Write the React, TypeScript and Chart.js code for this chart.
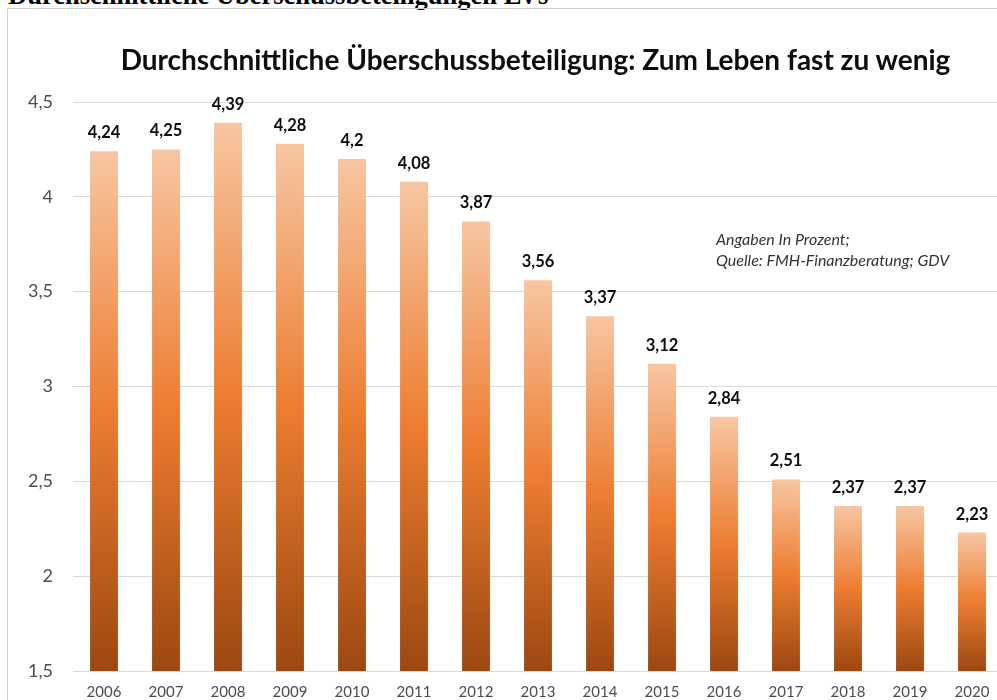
import React, { useEffect, useRef } from "react";
import { Chart, registerables } from "chart.js";

Chart.register(...registerables);

const years = ["2006","2007","2008","2009","2010","2011","2012","2013","2014","2015","2016","2017","2018","2019","2020"];
const rates = [4.24, 4.25, 4.39, 4.28, 4.2, 4.08, 3.87, 3.56, 3.37, 3.12, 2.84, 2.51, 2.37, 2.37, 2.23];
const yMin = 1.5;
const yMax = 4.5;
const yStep = 0.5;
const chartTitle = "Durchschnittliche Überschussbeteiligung: Zum Leben fast zu wenig";
const pageHeading = "Durchschnittliche Überschussbeteiligungen LVs";
const noteLines = ["Angaben In Prozent;", "Quelle: FMH-Finanzberatung; GDV"];

const fmt = (v: number) => String(v).replace(".", ",");

const dataLabels = {
  id: "dataLabels",
  afterDatasetsDraw(chart: any) {
    const ctx = chart.ctx;
    const meta = chart.getDatasetMeta(0);
    ctx.save();
    ctx.font = "bold 16.5px Lato";
    ctx.fillStyle = "#0D0D0D";
    ctx.textAlign = "center";
    ctx.textBaseline = "alphabetic";
    meta.data.forEach((el: any, i: number) => {
      ctx.fillText(fmt(rates[i]), el.x, el.y - 13);
    });
    ctx.restore();
  },
};

export default function App() {
  const ref = useRef<HTMLCanvasElement | null>(null);
  useEffect(() => {
    if (!ref.current) return;
    const chart = new Chart(ref.current, {
      type: "bar",
      data: {
        labels: years,
        datasets: [
          {
            data: rates,
            barPercentage: 0.45,
            categoryPercentage: 1,
            backgroundColor: (c: any) => {
              const ch = c.chart;
              const y = ch.scales && ch.scales.y;
              if (!y || c.type !== "data") return "#ED7D31";
              const top = y.getPixelForValue(rates[c.dataIndex]);
              const bottom = y.getPixelForValue(yMin);
              if (!isFinite(top) || !isFinite(bottom) || bottom <= top) return "#ED7D31";
              const g = ch.ctx.createLinearGradient(0, top, 0, bottom);
              g.addColorStop(0, "#F7C6A2");
              g.addColorStop(0.5, "#ED7D31");
              g.addColorStop(1, "#9C4811");
              return g;
            },
          },
        ],
      },
      options: {
        animation: false,
        responsive: false,
        layout: { padding: { left: 0, right: 60, top: 93, bottom: 0 } },
        plugins: {
          legend: { display: false },
          tooltip: { enabled: false },
          title: { display: false },
        },
        scales: {
          x: {
            grid: { display: false, drawTicks: false },
            border: { display: false },
            ticks: { color: "#4D4D4D", font: { family: "Lato", size: 15 }, padding: 12 },
            afterFit: (s: any) => { s.height = 38; },
          },
          y: {
            min: yMin,
            max: yMax,
            grid: { color: "#D9D9D9", drawTicks: false },
            border: { display: false },
            ticks: {
              stepSize: yStep,
              color: "#4D4D4D",
              font: { family: "Lato", size: 18 },
              padding: 20,
              callback: (v: any) => fmt(Number(v)),
            },
            afterFit: (s: any) => { s.width = 65; },
          },
        },
      },
      plugins: [dataLabels],
    });
    return () => chart.destroy();
  }, []);

  return (
    <div style={{ position: "fixed", left: 0, top: 0, width: 997, height: 700, overflow: "hidden", background: "#fff" }}>
      <div style={{ position: "absolute", left: 8, top: -18, font: "bold 26.5px 'Liberation Serif'", lineHeight: "27px", whiteSpace: "nowrap", color: "#000" }}>
        {pageHeading}
      </div>
      <div style={{ position: "absolute", left: 7, top: 8, width: 1100, height: 800, border: "1px solid #D0D0D0", boxSizing: "border-box" }} />
      <canvas ref={ref} width={1055} height={700} style={{ position: "absolute", left: 8, top: 9 }} />
      <div style={{ position: "absolute", left: 0, top: 42, width: 1071, textAlign: "center", font: "bold 28px Lato", lineHeight: "34px", color: "#0D0D0D", whiteSpace: "nowrap" }}>
        {chartTitle}
      </div>
      <div style={{ position: "absolute", left: 716, top: 228, font: "italic 16px Lato", lineHeight: "21px", color: "#333333", whiteSpace: "nowrap" }}>
        <div>{noteLines[0]}</div>
        <div>{noteLines[1]}</div>
      </div>
    </div>
  );
}
